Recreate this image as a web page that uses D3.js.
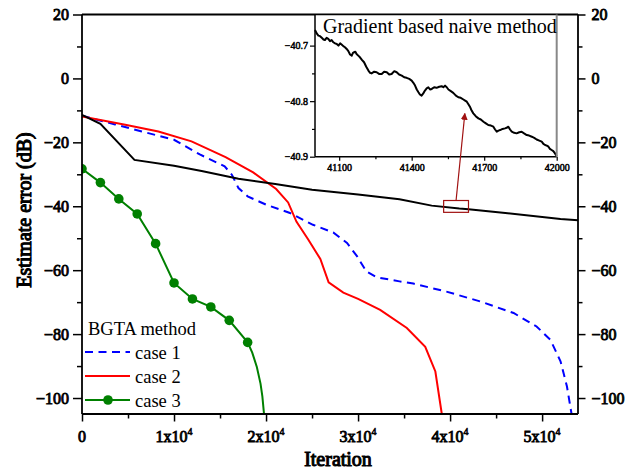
<!DOCTYPE html>
<html>
<head>
<meta charset="utf-8">
<script src="https://cdn.jsdelivr.net/npm/d3@7/dist/d3.min.js"></script>
<style>
  html, body { margin: 0; padding: 0; background: #fff; }
  svg { display: block; font-family: "Liberation Serif", "Times New Roman", serif; }
  svg text { font-family: "Liberation Serif", "Times New Roman", serif; }
  .heavy { font-weight: normal; stroke: #000; paint-order: stroke fill; }
</style>
</head>
<body>
<svg id="chart" width="639" height="470"></svg>
<script>
// ---- data ----
const xTicks = [0, 10000, 20000, 30000, 40000, 50000];
const xMinorTicks = [5000, 15000, 25000, 35000, 45000];
const yTicks = [-100, -80, -60, -40, -20, 0, 20];
const yMinorTicks = [-90, -70, -50, -30, -10, 10];

// Gradient based naive method
const naive = [
  [0, -11.4], [2000, -14.2], [5700, -25.5], [10000, -27.3], [13000, -29.0],
  [17000, -31.4], [21000, -33.0], [25000, -34.8], [30000, -36.3], [34500, -37.8],
  [38000, -39.8], [41000, -40.7], [42000, -40.9], [46000, -42.1], [52000, -44.0],
  [53900, -44.4]
];
// BGTA method, case 1
const case1 = [
  [0, -11.7], [3600, -14.4], [6500, -16.6], [10000, -19.2], [12800, -23.8],
  [15500, -27.5], [16300, -30.2], [17000, -34.3], [18000, -36.9], [20000, -39.5],
  [22600, -42.1], [25100, -45.8], [27300, -48.2], [28800, -51.5], [29900, -55.7],
  [30900, -60.4], [32000, -62.2], [34500, -63.5], [36000, -64.2], [39600, -66.7],
  [43300, -69.8], [46900, -73.4], [49400, -77.6], [50900, -81.8], [52000, -88.5],
  [52700, -96.4], [53200, -105]
];
// BGTA method, case 2
const case2 = [
  [0, -11.9], [4700, -14.5], [8300, -16.6], [11900, -19.7], [15600, -24.6],
  [18600, -29.4], [21100, -34.6], [22400, -38.8], [23300, -44.8], [24600, -50.5],
  [25900, -56.5], [26800, -63.8], [28400, -67.0], [30000, -69.0], [32400, -72.4],
  [35300, -78.1], [37300, -84.0], [38400, -91.7], [39100, -105]
];
// BGTA method, case 3 (marked samples)
const case3 = [
  [0, -28.3], [2000, -32.6], [4000, -37.7], [6000, -42.4], [8000, -51.7],
  [10000, -64.0], [12000, -69.0], [14000, -71.5], [16000, -75.7], [18000, -82.6]
];
// case 3 tail after the last marked sample
const case3Tail = [
  [18000, -82.6], [18500, -85.8], [19000, -90.3], [19400, -95.5], [19600, -99.5], [19780, -105]
];

// zoomed detail of the naive method
const insetXTicks = [41100, 41400, 41700, 42000];
const insetXMinor = [41250, 41550, 41850];
const insetYTicks = [-40.9, -40.8, -40.7];
const insetYMinor = [-40.85, -40.75];
const naiveDetail = [
  [41000, -40.672], [41007, -40.678], [41014, -40.682], [41021, -40.683], [41028, -40.686],
  [41035, -40.689], [41041, -40.690], [41048, -40.686], [41055, -40.688], [41062, -40.692],
  [41069, -40.690], [41076, -40.694], [41083, -40.696], [41090, -40.697], [41097, -40.700],
  [41104, -40.696], [41110, -40.698], [41117, -40.701], [41124, -40.703], [41131, -40.706],
  [41138, -40.710], [41145, -40.716], [41152, -40.718], [41157, -40.713], [41161, -40.712],
  [41167, -40.711], [41172, -40.715], [41179, -40.718], [41186, -40.721], [41195, -40.726],
  [41203, -40.730], [41212, -40.738], [41221, -40.745], [41228, -40.749], [41234, -40.750],
  [41245, -40.747], [41255, -40.748], [41265, -40.751], [41276, -40.751], [41286, -40.747],
  [41297, -40.748], [41307, -40.752], [41317, -40.751], [41328, -40.746], [41338, -40.748],
  [41348, -40.752], [41359, -40.754], [41369, -40.757], [41379, -40.758], [41390, -40.760],
  [41400, -40.763], [41407, -40.767], [41414, -40.772], [41421, -40.779], [41428, -40.784],
  [41434, -40.788], [41441, -40.790], [41448, -40.786], [41455, -40.781], [41462, -40.777],
  [41469, -40.775], [41476, -40.779], [41483, -40.778], [41493, -40.775], [41503, -40.776],
  [41514, -40.774], [41524, -40.773], [41531, -40.775], [41538, -40.772], [41545, -40.775],
  [41552, -40.779], [41562, -40.782], [41572, -40.785], [41583, -40.790], [41593, -40.793],
  [41603, -40.794], [41614, -40.797], [41621, -40.799], [41628, -40.801], [41634, -40.805],
  [41641, -40.810], [41648, -40.817], [41655, -40.822], [41665, -40.827], [41676, -40.831],
  [41686, -40.833], [41697, -40.837], [41707, -40.840], [41717, -40.843], [41728, -40.844],
  [41738, -40.846], [41745, -40.851], [41752, -40.855], [41759, -40.853], [41766, -40.852],
  [41776, -40.850], [41786, -40.849], [41793, -40.848], [41800, -40.846], [41807, -40.851],
  [41814, -40.855], [41824, -40.857], [41834, -40.858], [41845, -40.856], [41855, -40.855],
  [41865, -40.858], [41876, -40.861], [41886, -40.862], [41897, -40.864], [41907, -40.866],
  [41917, -40.869], [41928, -40.871], [41938, -40.873], [41945, -40.877], [41952, -40.879],
  [41959, -40.880], [41966, -40.882], [41972, -40.886], [41979, -40.888], [41986, -40.890],
  [41993, -40.894], [42000, -40.899]
];
// region of the main plot shown in the detail view: [x0, x1], [yTop, yBottom]
const focusBox = [[39300, 42000], [-38.2, -41.9]];

const legendItems = [
  { label: "case 1", color: "#0000ff", dash: "8,5.5", marker: false },
  { label: "case 2", color: "#ff0000", dash: null, marker: false },
  { label: "case 3", color: "#008000", dash: null, marker: true }
];

// ---- layout ----
const svg = d3.select("#chart");
const L = 82, R = 578, T = 14.5, B = 414;
const x = d3.scaleLinear().domain([0, 53900]).range([L, R]);
const y = d3.scaleLinear().domain([-105, 20]).range([B, T]);
const serif = '"Liberation Serif", "Times New Roman", serif';

svg.append("defs").append("clipPath").attr("id", "plotClip")
  .append("rect").attr("x", L).attr("y", T).attr("width", R - L).attr("height", B - T);

const line = d3.line().x(d => x(d[0])).y(d => y(d[1]));
const plot = svg.append("g").attr("clip-path", "url(#plotClip)");

plot.append("path").datum(case1).attr("d", line)
  .attr("fill", "none").attr("stroke", "#0000ff").attr("stroke-width", 2)
  .attr("stroke-dasharray", "8,5.5");
plot.append("path").datum(case2).attr("d", line)
  .attr("fill", "none").attr("stroke", "#ff0000").attr("stroke-width", 2);
plot.append("path").datum(naive).attr("d", line)
  .attr("fill", "none").attr("stroke", "#000").attr("stroke-width", 2);
plot.append("path").datum(case3.concat(case3Tail.slice(1))).attr("d", line)
  .attr("fill", "none").attr("stroke", "#008000").attr("stroke-width", 2);
plot.selectAll("circle.m3").data(case3).join("circle").attr("class", "m3")
  .attr("cx", d => x(d[0])).attr("cy", d => y(d[1])).attr("r", 4.8)
  .attr("fill", "#008000");

// focus box and arrow
const boxColor = "#a01010";
const bx0 = x(focusBox[0][0]), bx1 = x(focusBox[0][1]);
const by0 = y(focusBox[1][0]), by1 = y(focusBox[1][1]);
svg.append("rect").attr("x", bx0).attr("y", by0).attr("width", bx1 - bx0).attr("height", by1 - by0)
  .attr("fill", "none").attr("stroke", boxColor).attr("stroke-width", 1.2);
svg.append("defs").append("marker").attr("id", "arrowHead")
  .attr("viewBox", "0 0 10 10").attr("refX", 9).attr("refY", 5)
  .attr("markerWidth", 7).attr("markerHeight", 7).attr("markerUnits", "userSpaceOnUse")
  .attr("orient", "auto")
  .append("path").attr("d", "M0,0 L10,5 L0,10 Z").attr("fill", boxColor);

// frame
const frame = svg.append("g").attr("stroke", "#000").attr("stroke-width", 1.8).attr("fill", "none");
frame.append("line").attr("x1", L).attr("x2", R).attr("y1", T).attr("y2", T);
frame.append("line").attr("x1", L).attr("x2", R).attr("y1", B).attr("y2", B);
frame.append("line").attr("x1", L).attr("x2", L).attr("y1", T).attr("y2", B);
frame.append("line").attr("x1", R).attr("x2", R).attr("y1", T).attr("y2", B);

// heavy serif lettering for tick labels and titles
function heavy(sel, size, sw) {
  sel.attr("class", "heavy").attr("font-family", serif).attr("font-size", size)
    .attr("fill", "#000").attr("stroke", "#000").attr("stroke-width", sw);
}

// axes
function styleAxis(g) {
  g.attr("font-family", serif);
  g.select(".domain").remove();
  g.selectAll(".tick line").attr("stroke", "#000").attr("stroke-width", 1.5);
  g.selectAll("text").call(heavy, 16, 0.85);
}
svg.append("g").attr("transform", `translate(${L},0)`)
  .call(d3.axisLeft(y).tickValues(yTicks).tickSize(9).tickPadding(4).tickSizeOuter(0))
  .call(styleAxis);
svg.append("g").attr("transform", `translate(${L},0)`)
  .call(d3.axisLeft(y).tickValues(yMinorTicks).tickSize(5).tickFormat("").tickSizeOuter(0))
  .call(styleAxis);
svg.append("g").attr("transform", `translate(${R},0)`)
  .call(d3.axisRight(y).tickValues(yTicks).tickSize(7.5).tickPadding(6).tickSizeOuter(0))
  .call(styleAxis);
svg.append("g").attr("transform", `translate(${R},0)`)
  .call(d3.axisRight(y).tickValues(yMinorTicks).tickSize(4.5).tickFormat("").tickSizeOuter(0))
  .call(styleAxis);
svg.append("g").attr("transform", `translate(0,${B})`)
  .call(d3.axisBottom(x).tickValues(xTicks).tickSize(7.5).tickFormat("").tickSizeOuter(0))
  .call(styleAxis);
svg.append("g").attr("transform", `translate(0,${B})`)
  .call(d3.axisBottom(x).tickValues(xMinorTicks).tickSize(4.5).tickFormat("").tickSizeOuter(0))
  .call(styleAxis);

// x tick labels in "n x 10^4" form
const xl = svg.append("g");
xTicks.forEach(v => {
  const t = xl.append("text").attr("x", x(v)).attr("y", 441.5)
    .attr("text-anchor", "middle").call(heavy, 16, 0.85);
  if (v === 0) { t.text("0"); return; }
  t.append("tspan").text(`${v / 10000}x10`);
  t.append("tspan").attr("font-size", 10).attr("stroke-width", 0.55).attr("dy", -7).text("4");
});

// axis titles
svg.append("text").attr("x", 338).attr("y", 466)
  .attr("text-anchor", "middle").call(heavy, 20, 1.05)
  .text("Iteration");
svg.append("text").attr("transform", "translate(31,210) rotate(-90)")
  .attr("text-anchor", "middle").call(heavy, 20, 1.05)
  .text("Estimate error (dB)");

// legend
const lg = svg.append("g").attr("font-family", serif);
lg.append("text").attr("x", 88).attr("y", 335).attr("font-size", 18.5).text("BGTA method");
legendItems.forEach((it, i) => {
  const yy = 352 + i * 24;
  lg.append("line").attr("x1", 85).attr("x2", 130).attr("y1", yy).attr("y2", yy)
    .attr("stroke", it.color).attr("stroke-width", 2)
    .attr("stroke-dasharray", it.dash);
  if (it.marker) lg.append("circle").attr("cx", 108).attr("cy", yy).attr("r", 4.8).attr("fill", it.color);
  lg.append("text").attr("x", 135).attr("y", yy + 7).attr("font-size", 18.5).text(it.label);
});

// ---- detail view of the naive method ----
const IL = 315, IR = 556.7, IT = T, IB = 156.7;
const xi = d3.scaleLinear().domain([41000, 42000]).range([IL, IR]);
const yi = d3.scaleLinear().domain([-40.9, -40.644]).range([IB, IT]);
const inset = svg.append("g");
inset.append("rect").attr("x", IL).attr("y", IT + 1).attr("width", IR - IL).attr("height", IB - IT - 1)
  .attr("fill", "#fff");
inset.append("path").datum(naiveDetail)
  .attr("d", d3.line().x(d => xi(d[0])).y(d => yi(d[1])))
  .attr("fill", "none").attr("stroke", "#000").attr("stroke-width", 2).attr("stroke-linejoin", "round");

function styleInsetAxis(g) {
  g.attr("font-family", serif);
  g.select(".domain").remove();
  g.selectAll(".tick line").attr("stroke", "#000").attr("stroke-width", 1.2);
  g.selectAll("text").call(heavy, 10, 0.5);
}
inset.append("g").attr("transform", `translate(${IL},0)`)
  .call(d3.axisLeft(yi).tickValues(insetYTicks).tickSize(5).tickPadding(2).tickFormat(d3.format(".1f")).tickSizeOuter(0))
  .call(styleInsetAxis);
inset.append("g").attr("transform", `translate(${IL},0)`)
  .call(d3.axisLeft(yi).tickValues(insetYMinor).tickSize(3).tickFormat("").tickSizeOuter(0))
  .call(styleInsetAxis);
inset.append("g").attr("transform", `translate(0,${IB})`)
  .call(d3.axisBottom(xi).tickValues(insetXTicks).tickSize(4).tickPadding(3).tickFormat(d3.format("d")).tickSizeOuter(0))
  .call(styleInsetAxis);
inset.append("g").attr("transform", `translate(0,${IB})`)
  .call(d3.axisBottom(xi).tickValues(insetXMinor).tickSize(2.5).tickFormat("").tickSizeOuter(0))
  .call(styleInsetAxis);
inset.append("line").attr("x1", IL).attr("x2", IL).attr("y1", IT).attr("y2", IB)
  .attr("stroke", "#000").attr("stroke-width", 1.5);
inset.append("line").attr("x1", IL).attr("x2", IR).attr("y1", IB).attr("y2", IB)
  .attr("stroke", "#000").attr("stroke-width", 1.5);
inset.append("line").attr("x1", IR).attr("x2", IR).attr("y1", IT).attr("y2", IB)
  .attr("stroke", "#888").attr("stroke-width", 2);
inset.append("text").attr("x", 323).attr("y", 33).attr("font-family", serif).attr("font-size", 20)
  .text("Gradient based naive method");

// arrow from the focus box up to the detail view
const arrowTip = [xi(41620), yi(-40.806) + 9];
svg.append("line").attr("x1", (bx0 + bx1) / 2).attr("y1", by0)
  .attr("x2", arrowTip[0]).attr("y2", arrowTip[1])
  .attr("stroke", boxColor).attr("stroke-width", 1.2).attr("marker-end", "url(#arrowHead)");
</script>
</body>
</html>
